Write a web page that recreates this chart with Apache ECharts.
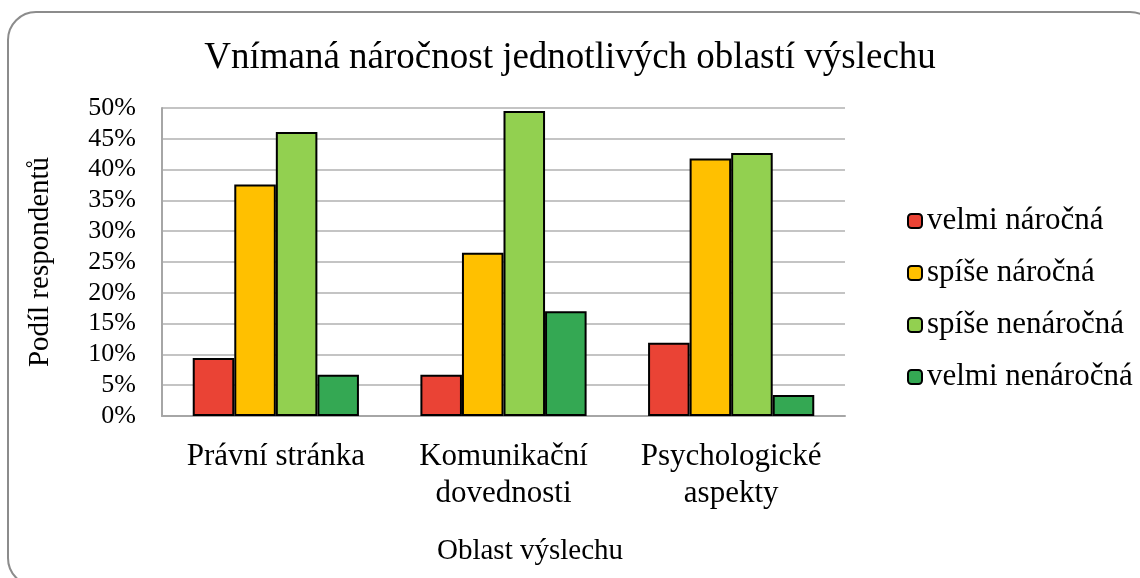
<!DOCTYPE html>
<html>
<head>
<meta charset="utf-8">
<script src="https://cdn.jsdelivr.net/npm/echarts@6/dist/echarts.min.js"></script>
<style>
  html, body { margin: 0; padding: 0; background: #fff; }
  #chart { width: 1140px; height: 578px; }
</style>
</head>
<body>
<div id="chart"></div>
<script>
const categories = ['Právní stránka', 'Komunikační\ndovednosti', 'Psychologické\naspekty']
const seriesNames = ['velmi náročná', 'spíše náročná', 'spíše nenáročná', 'velmi nenáročná']
const velmiNarocna = [9.4, 6.7, 11.9]
const spiseNarocna = [37.6, 26.5, 41.8]
const spiseNenarocna = [46.1, 49.5, 42.7]
const velmiNenarocna = [6.7, 17.0, 3.4]
const yTicks = { min: 0, max: 50, step: 5 }

const colors = ['#EA4335', '#FFC000', '#92D050', '#34A853']
const font = '"Liberation Serif", "Times New Roman", serif'

const chart = echarts.init(document.getElementById('chart'))

const values = [velmiNarocna, spiseNarocna, spiseNenarocna, velmiNenarocna]

chart.setOption({
  backgroundColor: '#fff',
  textStyle: { fontFamily: font, color: '#000' },
  title: {
    text: 'Vnímaná náročnost jednotlivých oblastí výslechu',
    left: 'center',
    top: 35,
    textStyle: { fontFamily: font, fontSize: 37, fontWeight: 'normal', color: '#000' }
  },
  legend: {
    orient: 'vertical',
    left: 902,
    top: 200,
    itemWidth: 14,
    itemHeight: 14,
    itemGap: 20,
    itemStyle: { borderColor: '#000', borderWidth: 2 },
    textStyle: { fontFamily: font, fontSize: 31, lineHeight: 32, color: '#000' },
    data: seriesNames
  },
  grid: { left: 162, right: 295, top: 108, bottom: 162 },
  xAxis: {
    type: 'category',
    data: categories,
    axisTick: { show: false },
    axisLine: { lineStyle: { color: '#a6a6a6', width: 2 } },
    axisLabel: {
      fontFamily: font, fontSize: 31, color: '#000',
      margin: 22, lineHeight: 37, interval: 0
    }
  },
  yAxis: {
    type: 'value',
    min: yTicks.min,
    max: yTicks.max,
    interval: yTicks.step,
    name: 'Podíl respondentů',
    nameLocation: 'middle',
    nameGap: 107,
    nameTextStyle: { fontFamily: font, fontSize: 29, color: '#000' },
    axisLine: { show: true, lineStyle: { color: '#a6a6a6', width: 2 } },
    axisLabel: { fontFamily: font, fontSize: 26, color: '#000', margin: 26, formatter: '{value}%' },
    splitLine: { lineStyle: { color: '#c4c4c4', width: 2 } }
  },
  graphic: [
    {
      type: 'rect',
      shape: { x: 8, y: 12, width: 1150, height: 574, r: 28 },
      style: { fill: 'none', stroke: '#8c8c8c', lineWidth: 2 },
      silent: true
    },
    {
      type: 'text',
      style: {
        x: 530, y: 551, text: 'Oblast výslechu',
        font: '29px ' + font, fill: '#000',
        align: 'center', verticalAlign: 'middle'
      }
    }
  ],
  series: seriesNames.map((name, i) => ({
    name,
    type: 'bar',
    data: values[i],
    barGap: '0%',
    barCategoryGap: '27%',
    itemStyle: { color: colors[i], borderColor: '#000', borderWidth: 2 }
  }))
})
</script>
</body>
</html>
